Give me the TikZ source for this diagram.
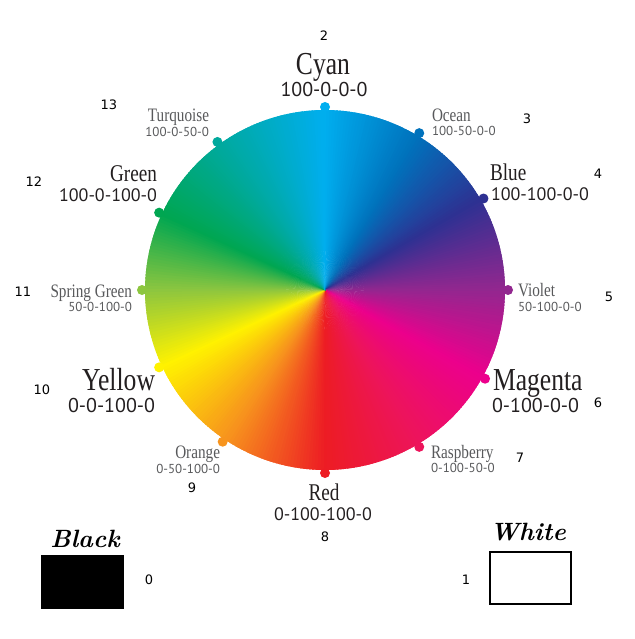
\documentclass[tikz,border=0pt]{standalone}
\usepackage{fontspec}
\newfontfamily\nmfont[FakeStretch=0.8]{Liberation Serif}
\newfontfamily\cdfont{PT Sans}
\newfontfamily\ixfont{DejaVu Sans}
\definecolor{hue0}{RGB}{0,174,239}
\definecolor{hue1}{RGB}{0,114,188}
\definecolor{hue2}{RGB}{46,49,146}
\definecolor{hue3}{RGB}{146,39,143}
\definecolor{hue4}{RGB}{236,0,140}
\definecolor{hue5}{RGB}{237,20,91}
\definecolor{hue6}{RGB}{237,28,36}
\definecolor{hue7}{RGB}{247,148,29}
\definecolor{hue8}{RGB}{255,242,0}
\definecolor{hue9}{RGB}{141,198,63}
\definecolor{hue10}{RGB}{0,166,81}
\definecolor{hue11}{RGB}{0,169,157}
\definecolor{hue12}{RGB}{0,174,239}
\definecolor{txt}{RGB}{35,31,32}
\definecolor{soft}{RGB}{88,89,91}
\begin{document}
\begin{tikzpicture}[x=1pt,y=-1pt,
  every node/.style={inner sep=0pt, outer sep=0pt},
  bigname/.style={font=\nmfont\fontsize{32}{32}\selectfont, text=txt},
  midname/.style={font=\nmfont\fontsize{24}{24}\selectfont, text=txt},
  smallname/.style={font=\nmfont\fontsize{19}{19}\selectfont, text=soft},
  bigcode/.style={font=\cdfont\fontsize{20}{20}\selectfont, text=txt},
  midcode/.style={font=\cdfont\fontsize{18}{18}\selectfont, text=txt},
  smallcode/.style={font=\cdfont\fontsize{13}{13}\selectfont, text=soft},
  idx/.style={font=\ixfont\fontsize{13}{13}\selectfont, text=black},
  dot/.style={circle, minimum size=10pt},
  script/.style={font=\bfseries\itshape\fontsize{25}{25}\selectfont, text=black}
]
\useasboundingbox (0,0) rectangle (634,639);
\coordinate (C) at (325,290);
% conic gradient wheel (angles clockwise from top)
\foreach \k/\a/\b in {0/0/31,1/31/60,2/60/90,3/90/119,4/119/149,5/149/180,6/180/214,7/214/245,8/245/270,9/270/295,10/295/324,11/324/360}{
  \pgfmathtruncatemacro{\kk}{\k+1}
  \pgfmathtruncatemacro{\n}{\b-\a-1}
  \foreach \j in {0,...,\n}{
    \pgfmathtruncatemacro{\p}{100-\j*100/(\b-\a)}
    \pgfmathsetmacro{\s}{-90+\a+\j}
    \colorlet{wc}{hue\k!\p!hue\kk}
    \fill[wc] (C) -- ++({\s-0.6}:180) arc[start angle={\s-0.6}, end angle={\s+1.1}, radius=180] -- cycle;
  }
}
% dots
\foreach \k/\a in {0/0,1/31,2/60,3/90,4/119,5/149,6/180,7/214,8/245,9/270,10/295,11/324}{
  \node[dot, fill=hue\k] (d\k) at ([shift={({-90+\a}:183)}]C) {};
}
% labels
\node[bigname, anchor=base] (nCyan) at (323,75) {Cyan};
\node[bigcode, anchor=base] (cCyan) at (324,97) {100-0-0-0};
\node[smallname, anchor=base west] (nOcean) at (432,122) {Ocean};
\node[smallcode, anchor=base west] (cOcean) at (432,136) {100-50-0-0};
\node[midname, anchor=base west] (nBlue) at (490,181) {Blue};
\node[midcode, anchor=base west] (cBlue) at (491,200) {100-100-0-0};
\node[smallname, anchor=base west] (nViolet) at (518,296) {Violet};
\node[smallcode, anchor=base west] (cViolet) at (518,311) {50-100-0-0};
\node[bigname, anchor=base west] (nMagenta) at (493,390) {Magenta};
\node[bigcode, anchor=base west] (cMagenta) at (492,412) {0-100-0-0};
\node[smallname, anchor=base west] (nRasp) at (431,458) {Raspberry};
\node[smallcode, anchor=base west] (cRasp) at (431,472) {0-100-50-0};
\node[midname, anchor=base] (nRed) at (324,500) {Red};
\node[midcode, anchor=base] (cRed) at (323,520) {0-100-100-0};
\node[smallname, anchor=base east] (nOrange) at (220,458) {Orange};
\node[smallcode, anchor=base east] (cOrange) at (220,473) {0-50-100-0};
\node[bigname, anchor=base east] (nYellow) at (155,390) {Yellow};
\node[bigcode, anchor=base east] (cYellow) at (155,412) {0-0-100-0};
\node[smallname, anchor=base east] (nSpring) at (132,297) {Spring Green};
\node[smallcode, anchor=base east] (cSpring) at (132,311) {50-0-100-0};
\node[midname, anchor=base east] (nGreen) at (157,182) {Green};
\node[midcode, anchor=base east] (cGreen) at (157,201) {100-0-100-0};
\node[smallname, anchor=base east] (nTurq) at (209,122) {Turquoise};
\node[smallcode, anchor=base east] (cTurq) at (209,137) {100-0-50-0};
% index numbers
\node[idx] (i2) at (324,36) {2};
\node[idx] (i3) at (527,119) {3};
\node[idx] (i4) at (598,174) {4};
\node[idx] (i5) at (609,297) {5};
\node[idx] (i6) at (598,403) {6};
\node[idx] (i7) at (520,458) {7};
\node[idx] (i8) at (325,537) {8};
\node[idx] (i9) at (192,488) {9};
\node[idx] (i10) at (42,390) {10};
\node[idx] (i11) at (23,292) {11};
\node[idx] (i12) at (34,182) {12};
\node[idx] (i13) at (109,105) {13};
\node[idx] (i0) at (149,580) {0};
\node[idx] (i1) at (466,580) {1};
% black and white
\node[script, anchor=base] (nBlack) at (85,547) {Black};
\node[fill=black, minimum width=83pt, minimum height=54pt, anchor=north west] (bBlack) at (41,555) {};
\node[script, anchor=base] (nWhite) at (528,540) {White};
\node[draw=black, line width=1.5pt, fill=white, minimum width=81pt, minimum height=52pt, anchor=north west] (bWhite) at (490,552) {};
\end{tikzpicture}
\end{document}
